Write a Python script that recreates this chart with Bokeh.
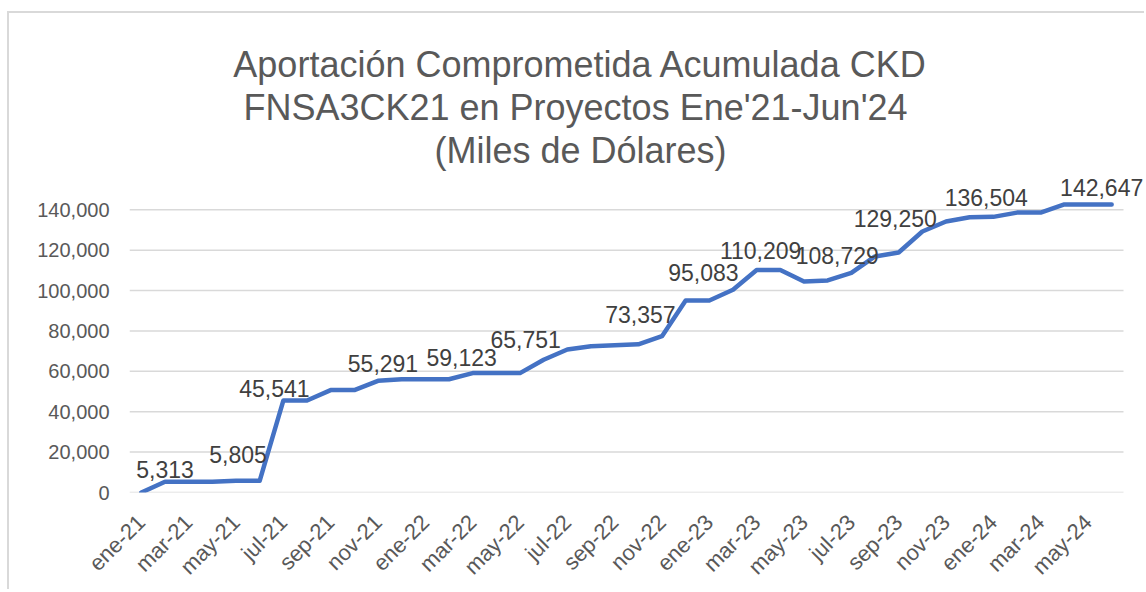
import math
from bokeh.plotting import figure
from bokeh.models import (ColumnDataSource, LabelSet, Label, FixedTicker,
                          Range1d, NumeralTickFormatter)
from bokeh.core.properties import value
from bokeh.embed import file_html
from bokeh.resources import INLINE

# ---------------- data ----------------
months = ["ene-21", "feb-21", "mar-21", "abr-21", "may-21", "jun-21",
          "jul-21", "ago-21", "sep-21", "oct-21", "nov-21", "dic-21",
          "ene-22", "feb-22", "mar-22", "abr-22", "may-22", "jun-22",
          "jul-22", "ago-22", "sep-22", "oct-22", "nov-22", "dic-22",
          "ene-23", "feb-23", "mar-23", "abr-23", "may-23", "jun-23",
          "jul-23", "ago-23", "sep-23", "oct-23", "nov-23", "dic-23",
          "ene-24", "feb-24", "mar-24", "abr-24", "may-24", "jun-24"]

values = [0, 5313, 5313, 5313, 5805, 5805,
          45541, 45541, 50700, 50700, 55291, 56100,
          56100, 56100, 59123, 59123, 59123, 65751,
          70800, 72400, 72900, 73357, 77400, 95083,
          95083, 100400, 110209, 110209, 104500, 105000,
          108729, 116900, 118850, 129250, 134200, 136300,
          136504, 138600, 138600, 142647, 142647, 142647]

labeled_months = ["feb-21", "may-21", "jul-21", "nov-21", "mar-22", "jun-22",
                  "oct-22", "ene-23", "mar-23", "jul-23", "oct-23", "ene-24",
                  "jun-24"]

y_ticks = [0, 20000, 40000, 60000, 80000, 100000, 120000, 140000]

title_lines = ["Aportación Comprometida Acumulada CKD",
               "FNSA3CK21  en Proyectos Ene'21-Jun'24",
               "(Miles de Dólares)"]

# label placement tweaks (style, screen px)
label_dx = [0, 2, -9, 5, -11, -18, 2, -6, 4, -14, -27, -7, -10]
label_dy = [12, 26, 12, 17, 16, 20, 30, 28, 19, 17, 13, 19, 17]

# ---------------- layout ----------------
FONT = "Liberation Sans"
W, H = 1137, 578
LEFT = 120            # frame left (canvas px)
FRAME_BOTTOM = 480    # canvas y of value 0
CAT_W = 994 / len(months)     # px per month
PX_PER_UNIT = 283.3 / 140000  # px per value unit

x_start = -0.5
x_end = x_start + (W - LEFT) / CAT_W
y_end = FRAME_BOTTOM / PX_PER_UNIT

x = list(range(len(months)))

p = figure(width=W, height=H, x_range=Range1d(x_start, x_end),
           y_range=Range1d(0, y_end), output_backend="svg",
           toolbar_location=None, min_border_left=LEFT, min_border_right=0,
           min_border_top=0, min_border_bottom=H - FRAME_BOTTOM)
p.styles = {"border-left": "2px solid #d9d9d9",
            "border-top": "2px solid #d9d9d9",
            "margin-top": "11px", "margin-left": "7px"}
p.outline_line_color = None
p.background_fill_color = "white"
p.border_fill_color = "white"

# horizontal gridlines limited to the category span
p.segment(x0=x_start, x1=len(months) - 0.5, y0=y_ticks, y1=y_ticks,
          line_color="#d9d9d9", line_width=1.5)

p.line(x, values, line_color="#4472C4", line_width=4.5,
       line_join="round", line_cap="round")

# axes
p.xgrid.visible = False
p.ygrid.visible = False
p.yaxis.ticker = FixedTicker(ticks=y_ticks)
p.yaxis.formatter = NumeralTickFormatter(format="0,0")
p.xaxis.ticker = FixedTicker(ticks=list(range(0, len(months), 2)))
p.xaxis.major_label_overrides = {i: months[i] for i in range(0, len(months), 2)}
p.xaxis.major_label_orientation = math.pi / 4
for ax in (p.xaxis, p.yaxis):
    ax.axis_line_color = None
    ax.major_tick_line_color = None
    ax.minor_tick_line_color = None
    ax.major_label_text_font = FONT
    ax.major_label_text_color = "#595959"
p.yaxis.major_label_text_font_size = "20px"
p.xaxis.major_label_text_font_size = "22px"
p.yaxis.major_label_standoff = 14
p.xaxis.major_label_standoff = 20

# data labels
idx = [months.index(m) for m in labeled_months]
src = ColumnDataSource(dict(
    x=idx,
    y=[values[i] for i in idx],
    text=[f"{values[i]:,}" for i in idx],
    dx=label_dx,
    dy=label_dy,
))
p.add_layout(LabelSet(x="x", y="y", text="text", source=src,
                      x_offset="dx", y_offset="dy",
                      text_align="center", text_baseline="middle",
                      text_font=value(FONT), text_font_size="23px",
                      text_color="#404040"))

# title (screen units are relative to the frame's bottom-left corner)
for i, line in enumerate(title_lines):
    p.add_layout(Label(x=451, y=FRAME_BOTTOM - 52 - 43 * i,
                       x_units="screen", y_units="screen",
                       text=line, text_align="center", text_baseline="alphabetic",
                       text_font=FONT, text_font_size="36px",
                       text_color="#595959"))

open("out.html", "w").write(file_html(p, INLINE))
